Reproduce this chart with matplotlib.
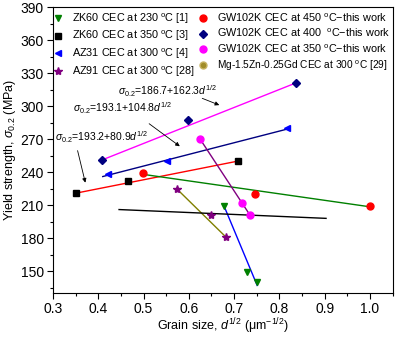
import numpy as np
import matplotlib
matplotlib.use('Agg')
import matplotlib.pyplot as plt
from matplotlib.ticker import MultipleLocator

plt.rcParams['font.family'] = ['Liberation Sans', 'DejaVu Sans']
plt.rcParams['mathtext.fontset'] = 'custom'
plt.rcParams['mathtext.rm'] = 'Liberation Sans'
plt.rcParams['mathtext.it'] = 'Liberation Sans:italic'

# Data: d^-1/2 (um^-1/2) vs yield strength (MPa)
zk60_230_x = [0.678, 0.729, 0.751]
zk60_230_y = [209, 149, 140]
zk60_350_x = [0.352, 0.466, 0.708]
zk60_350_y = [221, 232, 250]
az31_x = [0.421, 0.551, 0.816]
az31_y = [238, 250, 280]
az91_x = [0.573, 0.648, 0.682]
az91_y = [225, 201, 181]
gw450_x = [0.499, 0.746, 1.0]
gw450_y = [239, 220, 209]
gw400_x = [0.408, 0.598, 0.836]
gw400_y = [251, 287, 321]
gw350_x = [0.625, 0.718, 0.735]
gw350_y = [270, 212, 201]
mgzngd_x = []
mgzngd_y = []

# Fitted lines (end points)
fit_gw400 = ([0.408, 0.836], [251, 321])
fit_az31 = ([0.410, 0.816], [236, 279])
fit_zk350 = ([0.352, 0.708], [221, 250])
fit_gw450 = ([0.499, 1.0], [238, 208.5])
fit_gw350 = ([0.625, 0.735], [270, 201])
fit_zk230 = ([0.678, 0.751], [209, 137])
fit_az91 = ([0.573, 0.682], [225, 181])
fit_mgzngd = ([0.446, 0.903], [206, 198])

fig, ax = plt.subplots(figsize=(3.95, 3.37), dpi=100)
fig.subplots_adjust(left=0.134, right=0.994, top=0.979, bottom=0.13)

lw = 1.0
ax.plot(*fit_gw400, color='#ff00ff', lw=lw)
ax.plot(*fit_az31, color='#000080', lw=lw)
ax.plot(*fit_zk350, color='#ff0000', lw=lw)
ax.plot(*fit_gw450, color='#008000', lw=lw)
ax.plot(*fit_gw350, color='#800080', lw=lw)
ax.plot(*fit_zk230, color='#0000ff', lw=lw)
ax.plot(*fit_az91, color='#808000', lw=lw)
ax.plot(*fit_mgzngd, color='#000000', lw=lw)

ms = 5
deg = ' $^{\\rm o}$C'
ax.plot(zk60_230_x, zk60_230_y, 'v', color='#008000', ms=ms, ls='none', label='ZK60 CEC at 230' + deg + ' [1]')
ax.plot(zk60_350_x, zk60_350_y, 's', color='#000000', ms=ms, ls='none', label='ZK60 CEC at 350' + deg + ' [3]')
ax.plot(az31_x, az31_y, '<', color='#0000ff', ms=ms, ls='none', label='AZ31 CEC at 300' + deg + ' [4]')
ax.plot(az91_x, az91_y, '*', color='#800080', ms=ms + 1, ls='none', label='AZ91 CEC at 300' + deg + ' [28]')
ax.plot(gw450_x, gw450_y, 'o', color='#ff0000', ms=ms, ls='none', label='GW102K CEC at 450' + deg + '\u2212this work')
ax.plot(gw400_x, gw400_y, 'D', color='#000080', ms=ms - 0.5, ls='none', label='GW102K CEC at 400 ' + deg + '\u2212this work')
ax.plot(gw350_x, gw350_y, 'o', color='#ff00ff', ms=ms, ls='none', label='GW102K CEC at 350' + deg + '\u2212this work')
ax.plot(mgzngd_x, mgzngd_y, 'o', color='#a08c28', mec='#c8b464', ms=ms, ls='none', label='Mg-1.5Zn-0.25Gd CEC at 300' + deg + ' [29]')

leg = ax.legend(loc='upper left', ncol=2, frameon=False, fontsize=7.8,
                handlelength=1.0, handletextpad=0.8, labelspacing=0.3, columnspacing=0.2,
                borderpad=0, borderaxespad=0, bbox_to_anchor=(0.0, 0.985))
leg.get_texts()[-1].set_fontsize(7.3)

# Hall-Petch equations with arrows
tfs = 7.5
ax.text(0.4435, 313.5, r'$\sigma_{0.2}$=186.7+162.3$d^{1/2}$', fontsize=tfs, va='center')
ax.text(0.344, 298, r'$\sigma_{0.2}$=193.1+104.8$d^{1/2}$', fontsize=tfs, va='center')
ax.text(0.3045, 272, r'$\sigma_{0.2}$=193.2+80.9$d^{1/2}$', fontsize=tfs, va='center')
arrow = dict(arrowstyle='-|>', color='k', lw=0.6, mutation_scale=6)
ax.annotate('', xy=(0.673, 300), xytext=(0.624, 308), arrowprops=arrow)
ax.annotate('', xy=(0.585, 262), xytext=(0.5075, 285.5), arrowprops=arrow)
ax.annotate('', xy=(0.373, 228), xytext=(0.353, 262), arrowprops=arrow)

ax.set_xlim(0.3, 1.05)
ax.set_ylim(130, 390)
ax.xaxis.set_minor_locator(MultipleLocator(0.05))
ax.yaxis.set_major_locator(MultipleLocator(30))
ax.yaxis.set_minor_locator(MultipleLocator(15))
ax.set_xticks(np.arange(0.3, 1.01, 0.1))
ax.tick_params(which='major', direction='out', length=4, width=0.8, labelsize=10, pad=2.5)
ax.tick_params(which='minor', direction='out', length=2, width=0.8)
ax.set_xlabel(r'Grain size, $d^{1/2}$ ($\mathrm{\mu m}^{-1/2}$)', fontsize=9, labelpad=0)
ax.set_ylabel(r'Yield strength, $\sigma_{0.2}$ (MPa)', fontsize=9, labelpad=2)

fig.savefig('out.png', dpi=100)
